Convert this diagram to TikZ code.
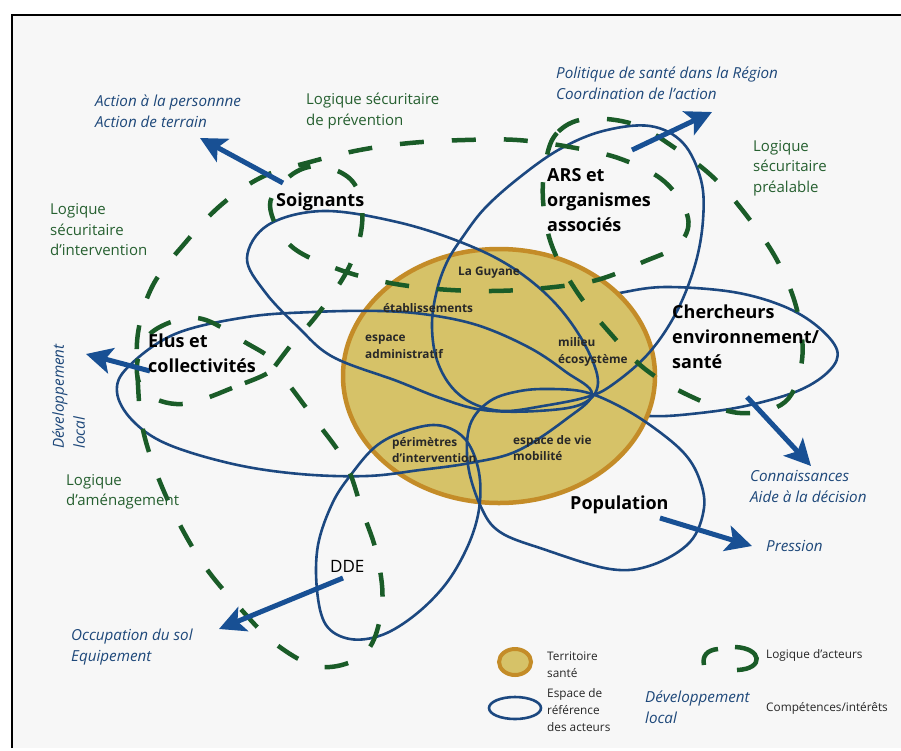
\documentclass[tikz,border=0pt]{standalone}
\usepackage{fontspec}
\setmainfont{Open Sans}
\usetikzlibrary{arrows.meta}
\definecolor{eblue}{RGB}{28,72,128}
\definecolor{ablue}{RGB}{24,80,148}
\definecolor{tblue}{RGB}{30,72,122}
\definecolor{dgreen}{RGB}{26,92,40}
\definecolor{gtext}{RGB}{38,96,48}
\definecolor{terrfill}{RGB}{214,194,104}
\definecolor{terrline}{RGB}{196,140,40}
\definecolor{bggray}{RGB}{247,247,247}
\definecolor{ztext}{RGB}{40,40,40}
\tikzset{
 actorline/.style={draw=eblue, line width=2.6pt},
 logic/.style={draw=dgreen, line width=4.5pt, dash pattern=on 24pt off 28pt},
 legdash/.style={draw=dgreen, line width=4.5pt},
 flow/.style={draw=ablue, line width=5pt, -{Stealth[length=26pt,width=26pt,inset=6pt]}},
 actor/.style={font=\fontsize{18}{25}\selectfont\bfseries, align=left, anchor=west, inner sep=0},
 outlbl/.style={text=tblue, font=\fontsize{15.2}{21}\selectfont\itshape, align=left, anchor=west, inner sep=0},
 greenlbl/.style={text=gtext, font=\fontsize{15}{20.5}\selectfont, align=left, anchor=west, inner sep=0},
 zonelbl/.style={text=ztext, font=\fontsize{11.8}{16.5}\selectfont\bfseries, align=left, anchor=west, inner sep=0},
 leglbl/.style={text=black!85, font=\fontsize{11.8}{17}\selectfont, align=left, anchor=west, inner sep=0},
}
\begin{document}
\begin{tikzpicture}[x=1pt,y=-1pt]
\useasboundingbox (0,0) rectangle (901,750);
\fill[white] (0,0) rectangle (901,750);
\fill[bggray] (12,15) rectangle (901,748);
\draw[black, line width=1.3pt] (12,748) -- (12,15) -- (901,15);

% Chercheurs (under the territory)
\draw[actorline] plot[smooth cycle, tension=0.6] coordinates {(600,300) (625,292) (667,287) (733,292) (783,306) (817,326) (837,350) (830,370) (800,390) (750,405) (700,413) (650,416) (605,408) (585,370) (585,325)};

% territory
\draw[fill=terrfill, draw=terrline, line width=4.5pt] (499,376) ellipse [x radius=156, y radius=127];

% actor spaces
\draw[actorline] plot[smooth cycle, tension=0.6] coordinates {(247,258) (268,225) (323,211) (397,222) (463,243) (513,268) (555,303) (585,345) (598,383) (582,404) (537,411) (483,410) (440,398) (397,381) (333,357) (298,327) (265,292)};
\draw[actorline] plot[smooth cycle, tension=0.6] coordinates {(432,323) (437,290) (447,262) (462,238) (485,208) (520,177) (560,149) (603,131) (650,126) (683,143) (701,180) (703,220) (695,265) (676,313) (648,354) (612,385) (587,397) (543,406) (503,411) (472,403) (450,385) (436,357)};
\draw[actorline] plot[smooth cycle, tension=0.6] coordinates {(117,392) (128,367) (175,334) (247,317) (313,312) (380,311) (430,315) (480,326) (530,348) (566,372) (592,394) (565,420) (517,451) (470,463) (420,470) (367,476) (300,474) (233,464) (167,444) (132,420)};
\draw[actorline] plot[smooth cycle, tension=0.6] coordinates {(470,425) (490,401) (520,391) (552,389) (585,392) (617,405) (650,425) (683,452) (699,478) (704,508) (690,542) (652,565) (610,569) (543,549) (500,532) (481,507) (468,465)};
\draw[actorline] plot[smooth cycle, tension=0.6] coordinates {(317,590) (318,545) (333,502) (353,472) (375,447) (400,433) (433,425) (457,432) (472,450) (480,480) (478,515) (466,550) (445,585) (415,615) (382,635) (350,639) (326,625)};

% logics (dashed)
\draw[logic] plot[smooth cycle, tension=0.6] coordinates {(585,119) (557,133) (546,160) (543,200) (552,246) (577,292) (610,333) (645,369) (690,396) (740,413) (785,402) (802,360) (797,310) (778,262) (750,220) (715,179) (675,148) (633,124)};
\draw[logic] plot[smooth, tension=0.6] coordinates {(275,366) (295,340) (313,320) (334,292) (350,265) (361,232) (361,200) (348,177) (318,166) (290,176) (270,205) (290,245) (335,268) (385,282) (437,289) (491,291) (545,288) (597,280) (643,262) (678,245) (688,218) (665,182) (621,159) (570,147) (517,140) (465,140) (410,143) (360,150) (310,162) (262,177) (221,205) (185,243) (153,285) (138,333) (138,385) (143,430) (158,477) (180,525) (206,568) (238,606) (277,645) (322,667) (366,652) (382,605) (377,555) (362,510) (345,462) (313,417) (275,366)};
\draw[logic] plot[smooth cycle, tension=0.6] coordinates {(275,366) (232,388) (182,404) (146,393) (137,365) (152,332) (197,318) (243,341)};

% flows
\coordinate (soigT) at (283,183); \coordinate (soigH) at (200,138);
\coordinate (arsT) at (632,150);  \coordinate (arsH) at (712,112);
\coordinate (elusT) at (150,371); \coordinate (elusH) at (86,354);
\coordinate (cherT) at (747,397); \coordinate (cherH) at (811,466);
\coordinate (popT) at (660,518);  \coordinate (popH) at (752,546);
\coordinate (ddeT) at (343,578);  \coordinate (ddeH) at (219,629);
\draw[flow] (soigT) -- (soigH);
\draw[flow] (arsT) -- (arsH);
\draw[flow] (elusT) -- (elusH);
\draw[flow] (cherT) -- (cherH);
\draw[flow] (popT) -- (popH);
\draw[flow] (ddeT) -- (ddeH);

% actors
\node[actor] (soig) at (276,202) {Soignants};
\node[actor] (ars) at (547,200) {ARS et\\organismes\\associés};
\node[actor] (elus) at (148,353) {Elus et\\collectivités};
\node[actor] (cher) at (672,337) {Chercheurs\\environnement/\\santé};
\node[actor] (pop) at (570,505) {Population};
\node[anchor=west, inner sep=0, font=\fontsize{17}{20}\selectfont] (dde) at (330,566) {DDE};

% zones
\node[zonelbl] (guy) at (458,273) {La Guyane};
\node[zonelbl] (etab) at (383,308) {établissements};
\node[zonelbl] (adm) at (365,347) {espace\\administratif};
\node[zonelbl] (mil) at (558,352) {milieu\\écosystème};
\node[zonelbl] (peri) at (392,450) {périmètres\\d’intervention};
\node[zonelbl] (vie) at (513,448) {espace de vie\\mobilité};

% outcomes
\node[outlbl] (o1) at (95,111) {Action à la personnne\\Action de terrain};
\node[outlbl] (o2) at (556,83) {Politique de santé dans la Région\\Coordination de l’action};
\node[outlbl] (o3) at (750,486) {Connaissances\\Aide à la décision};
\node[outlbl] (o4) at (766,546) {Pression};
\node[outlbl] (o5) at (71,647) {Occupation du sol\\Equipement};
\node[outlbl, rotate=90, anchor=north west] (o6) at (52,449) {Développement\\local};

% logics labels
\node[greenlbl] (g1) at (306,111) {Logique sécuritaire\\de prévention};
\node[greenlbl] (g2) at (50,230) {Logique\\sécuritaire\\d’intervention};
\node[greenlbl] (g3) at (753,168) {Logique\\sécuritaire\\préalable};
\node[greenlbl] (g4) at (66,492) {Logique\\d’aménagement};

% legend
\draw[fill=terrfill, draw=terrline, line width=4pt] (515,662) ellipse [x radius=16, y radius=13];
\node[leglbl] (l1) at (547,665) {Territoire\\santé};
\draw[actorline] (515,708) ellipse [x radius=26, y radius=11];
\node[leglbl] (l2) at (547,710) {Espace de\\référence\\des acteurs};
\draw[legdash] (718,649) .. controls (707,650) and (702,656) .. (704,665);
\draw[legdash] (735,647) .. controls (762,648) and (765,669) .. (737,670);
\node[leglbl] (l3) at (766,655) {Logique d’acteurs};
\node[outlbl] (l4) at (645,707) {Développement\\local};
\node[leglbl] (l5) at (766,708) {Compétences/intérêts};
\end{tikzpicture}
\end{document}
